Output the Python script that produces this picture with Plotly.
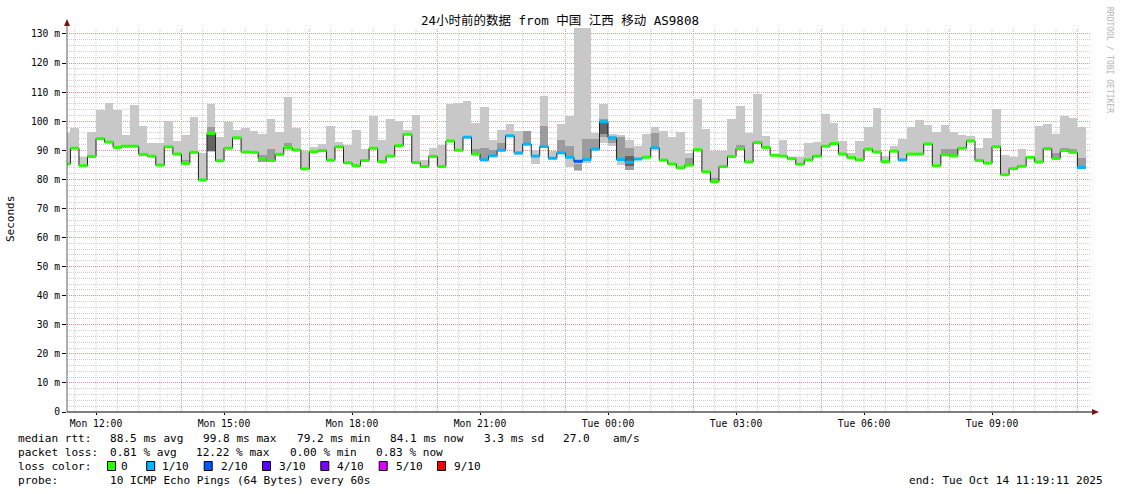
import plotly.graph_objects as go
import pandas as pd

# ---------------- data ----------------
bin_start = "2025-10-13 11:12:00"   # first 12-minute bin (partially visible)
bin_minutes = 12
range_start = "2025-10-13 11:19:11"
range_end = "2025-10-14 11:19:11"

median = [85.3, 90.7, 84.7, 87.9, 94.0, 92.8, 91.0, 91.4, 91.4, 88.6,
          88.0, 84.9, 91.2, 88.7, 85.5, 89.3, 79.8, 95.8, 86.4, 90.7,
          94.3, 89.4, 89.3, 87.1, 86.5, 88.6, 90.9, 90.1, 83.6, 89.5,
          89.9, 86.6, 91.2, 85.7, 84.7, 86.5, 90.7, 86.1, 88.0, 91.6,
          95.5, 85.8, 84.4, 87.9, 84.4, 93.2, 90.0, 94.5, 88.7, 86.7,
          88.1, 90.0, 95.0, 89.1, 92.1, 88.0, 91.3, 87.3, 89.1, 87.6,
          86.2, 86.8, 90.4, 99.8, 94.3, 86.8, 85.9, 87.0, 87.6, 90.8,
          86.6, 85.3, 84.0, 84.9, 90.2, 82.6, 79.2, 84.4, 87.9, 90.6,
          86.0, 92.7, 91.0, 88.3, 88.0, 87.1, 85.2, 86.7, 88.0, 91.4,
          92.3, 88.7, 87.5, 86.7, 90.4, 89.4, 86.1, 89.7, 86.7, 88.7,
          88.7, 92.2, 84.7, 88.5, 88.1, 90.7, 93.2, 86.5, 85.6, 91.2,
          81.6, 83.7, 84.5, 87.6, 86.0, 90.6, 87.2, 89.9, 89.3, 84.1]

smoke_hi = [95.8, 97.8, 87.8, 96.4, 103.7, 106.4, 104.0, 95.3, 105.7, 98.3,
            92.6, 92.6, 100.2, 93.2, 95.4, 101.6, 89.2, 105.9, 94.4, 99.8,
            97.0, 97.5, 96.6, 95.5, 100.6, 96.2, 108.4, 97.8, 89.9, 91.2,
            92.2, 98.3, 92.8, 91.8, 97.0, 90.3, 101.8, 93.5, 100.8, 100.1,
            97.0, 102.1, 86.7, 90.7, 91.8, 105.9, 106.2, 107.0, 99.4, 104.9,
            93.6, 97.1, 99.2, 96.7, 96.5, 90.2, 108.8, 89.9, 99.0, 101.7,
            132.0, 132.0, 95.9, 105.9, 95.7, 95.4, 93.6, 91.6, 95.7, 97.9,
            96.7, 94.4, 96.3, 89.2, 107.8, 97.3, 89.9, 89.9, 100.8, 105.3,
            96.1, 109.4, 94.9, 88.6, 93.5, 87.8, 87.6, 92.6, 93.0, 102.5,
            99.5, 93.2, 89.2, 93.2, 98.1, 104.4, 88.0, 91.5, 93.8, 98.1,
            100.4, 98.7, 96.4, 98.7, 96.2, 95.3, 94.9, 90.7, 94.1, 104.2,
            88.3, 87.7, 90.4, 87.9, 98.3, 99.0, 95.6, 101.8, 101.2, 98.0]

smoke_lo = [84.9, 90.3, 84.3, 87.5, 93.6, 92.4, 90.6, 91.0, 91.0, 88.2,
            87.6, 84.5, 90.8, 88.3, 85.1, 88.9, 79.4, 89.4, 86.0, 90.3,
            93.9, 89.0, 88.9, 86.0, 86.1, 88.2, 90.5, 89.7, 83.2, 89.1,
            89.5, 86.2, 90.8, 85.3, 84.3, 86.1, 90.3, 85.7, 87.6, 91.2,
            95.1, 85.4, 84.0, 87.5, 84.0, 92.8, 89.6, 94.1, 88.3, 86.3,
            87.7, 89.6, 94.6, 88.3, 91.7, 85.3, 90.9, 86.8, 88.7, 84.1,
            82.8, 85.5, 90.0, 92.6, 91.5, 84.8, 83.1, 86.6, 87.2, 90.4,
            86.2, 84.9, 83.6, 84.5, 89.8, 82.2, 78.8, 84.0, 87.5, 90.2,
            85.6, 92.3, 90.6, 87.9, 87.6, 86.7, 84.8, 86.3, 87.6, 91.0,
            91.9, 88.3, 87.1, 86.3, 90.0, 89.0, 85.7, 89.3, 86.3, 88.3,
            88.3, 91.8, 84.3, 88.1, 87.7, 90.3, 92.8, 86.1, 85.2, 90.8,
            81.2, 83.3, 84.1, 87.2, 85.6, 90.2, 86.8, 89.5, 88.9, 83.7]

# inner (darker) smoke bands
mid_bins = [14, 17, 23, 24, 26, 48, 49, 50, 51, 54, 56, 58, 59, 60, 61, 62, 63,
            64, 65, 66, 69, 73, 76, 79, 103, 104, 116, 117, 118, 119]
mid_lo = [85.5, 89.6, 86.0, 86.5, 90.9, 88.7, 86.7, 88.1, 90.0, 92.1, 91.3, 89.1,
          87.6, 83.1, 86.8, 90.4, 94.4, 92.5, 86.8, 83.3, 90.8, 84.9, 79.2, 90.6,
          88.5, 88.1, 87.2, 89.9, 89.3, 84.1]
mid_hi = [86.7, 98.1, 88.4, 90.4, 92.6, 90.4, 90.8, 90.1, 92.5, 96.5, 98.5, 93.5,
          91.6, 85.3, 93.8, 93.8, 100.6, 94.3, 94.7, 90.8, 95.8, 87.4, 80.4, 91.8,
          90.4, 90.6, 89.1, 90.7, 90.3, 87.2]
dark_bins = [17, 63, 66]
dark_lo = [89.8, 95.5, 84.5]
dark_hi = [95.5, 99.5, 88.0]

# packet loss per bin, in tenths (0 = 0/10, 1 = 1/10, 2 = 2/10)
loss = [0, 0, 0, 0, 0, 0, 0, 0, 0, 0,
        0, 0, 0, 0, 0, 0, 0, 0, 0, 0,
        0, 0, 0, 0, 0, 0, 0, 0, 0, 0,
        0, 0, 0, 0, 0, 0, 0, 0, 0, 0,
        0, 0, 0, 0, 0, 0, 0, 1, 0, 1,
        1, 1, 1, 1, 1, 1, 1, 1, 1, 1,
        2, 1, 1, 1, 1, 1, 1, 1, 0, 1,
        0, 0, 0, 0, 0, 0, 0, 0, 0, 0,
        0, 0, 0, 0, 0, 0, 0, 0, 0, 0,
        0, 0, 0, 0, 0, 0, 0, 0, 1, 0,
        0, 0, 0, 0, 0, 0, 0, 0, 0, 0,
        0, 0, 0, 0, 0, 0, 0, 0, 0, 1]

loss_levels = [0, 1, 2, 3, 4, 5, 9]
loss_labels = ["0", "1/10", "2/10", "3/10", "4/10", "5/10", "9/10"]
loss_colors = ["#26ff00", "#00b8ff", "#0059ff", "#5e00ff", "#7e00ff", "#dd00ff", "#ff0000"]

y_tick_vals = [0, 10, 20, 30, 40, 50, 60, 70, 80, 90, 100, 110, 120, 130]
y_tick_text = ["0", "10 m", "20 m", "30 m", "40 m", "50 m", "60 m", "70 m",
               "80 m", "90 m", "100 m", "110 m", "120 m", "130 m"]
x_label_start = "2025-10-13 12:00"
x_label_count = 8
x_label_hours = 3
minor_grid_start = "2025-10-13 11:30"
minor_grid_count = 48
major_grid_start = "2025-10-13 14:00"
major_grid_count = 8

title_text = "24小时前的数据 from 中国 江西 移动 AS9808"
stats_rtt = ["median rtt:", "88.5 ms avg", "99.8 ms max", "79.2 ms min",
             "84.1 ms now", "3.3 ms sd", "27.0", "am/s"]
stats_loss = ["packet loss:", "0.81 % avg", "12.22 % max", "0.00 % min", "0.83 % now"]
probe_text = "10 ICMP Echo Pings (64 Bytes) every 60s"
end_text = "end: Tue Oct 14 11:19:11 2025"

# ---------------- geometry ----------------
W, H = 1121, 494
PL, PR, PT, PB = 67, 1091, 28, 412   # plot area in pixels
YMAX = 132.05
GRID_MINOR = "#cfcfcf"
GRID_MAJOR = "#f09090"

def px(x):
    return (x - PL) / (PR - PL)

def py(y):
    return (PB - y) / (PB - PT)

step = pd.Timedelta(minutes=bin_minutes)
t0 = pd.Timestamp(bin_start)
n = len(median)
starts = [t0 + i * step for i in range(n)]
ends = [s + step for s in starts]
centers = [s + step / 2 for s in starts]
wms = bin_minutes * 60 * 1000

fig = go.Figure()

# smoke: outer light band
fig.add_trace(go.Bar(x=centers, base=smoke_lo,
                     y=[h - l for h, l in zip(smoke_hi, smoke_lo)],
                     width=[wms] * n, marker=dict(color="#c8c8c8", line=dict(width=0)),
                     hoverinfo="skip", showlegend=False))
fig.add_trace(go.Bar(x=[centers[i] for i in mid_bins], base=mid_lo,
                     y=[h - l for h, l in zip(mid_hi, mid_lo)],
                     width=[wms] * len(mid_bins), marker=dict(color="#9c9c9c", line=dict(width=0)),
                     hoverinfo="skip", showlegend=False))
fig.add_trace(go.Bar(x=[centers[i] for i in dark_bins], base=dark_lo,
                     y=[h - l for h, l in zip(dark_hi, dark_lo)],
                     width=[wms] * len(dark_bins), marker=dict(color="#646464", line=dict(width=0)),
                     hoverinfo="skip", showlegend=False))

# median step line
fig.add_trace(go.Scatter(x=starts + [ends[-1]], y=median + [median[-1]], mode="lines",
                         line=dict(color="#202020", width=1, shape="hv"),
                         hoverinfo="skip", showlegend=False))

# loss-coloured median segments
for lvl, col in zip(loss_levels, loss_colors):
    xs, ys = [], []
    for i in range(n):
        if loss[i] == lvl:
            xs += [starts[i], ends[i], None]
            ys += [median[i], median[i], None]
    if xs:
        fig.add_trace(go.Scatter(x=xs, y=ys, mode="lines",
                                 line=dict(color=col, width=3),
                                 hoverinfo="skip", showlegend=False))

shapes = []
# vertical grid: grey every 30 min, red every 3 h
major_times = set(pd.date_range(major_grid_start, periods=major_grid_count, freq="3h"))
for t in pd.date_range(minor_grid_start, periods=minor_grid_count, freq="30min"):
    col = GRID_MAJOR if t in major_times else GRID_MINOR
    shapes.append(dict(type="line", xref="x", yref="paper", x0=t, x1=t, y0=0, y1=1,
                       line=dict(color=col, width=1, dash="1px,1px"),
                       layer="between"))
# axis lines with arrows
shapes.append(dict(type="line", xref="paper", yref="paper", x0=0, x1=0, y0=0, y1=py(22),
                   line=dict(color="#606060", width=1)))
shapes.append(dict(type="line", xref="paper", yref="paper", x0=0, x1=px(1095), y0=0, y1=0,
                   line=dict(color="#000000", width=1)))
shapes.append(dict(type="path", xref="paper", yref="paper",
                   path=f"M {px(64)} {py(26)} L {px(70)} {py(26)} L {px(67)} {py(19)} Z",
                   fillcolor="#801010", line=dict(width=0)))
shapes.append(dict(type="path", xref="paper", yref="paper",
                   path=f"M {px(1092)} {py(409)} L {px(1092)} {py(415)} L {px(1099)} {py(412)} Z",
                   fillcolor="#801010", line=dict(width=0)))

annotations = []
mono = "DejaVu Sans Mono, Noto Sans CJK SC, monospace"
annotations.append(dict(text=title_text, xref="paper", yref="paper", x=px(560), y=py(21),
                        showarrow=False, xanchor="center", yanchor="middle",
                        font=dict(family=mono, size=12.5, color="#000")))
annotations.append(dict(text="Seconds", xref="paper", yref="paper", x=px(10), y=py(219),
                        showarrow=False, textangle=-90, xanchor="center", yanchor="middle",
                        font=dict(family=mono, size=11, color="#000")))
annotations.append(dict(text="RRDTOOL / TOBI OETIKER", xref="paper", yref="paper",
                        x=px(1110), y=py(60), showarrow=False, textangle=90,
                        xanchor="center", yanchor="middle",
                        font=dict(family=mono, size=8, color="#b4b4b4")))

def legend_text(t, x, y):
    annotations.append(dict(text=t, xref="paper", yref="paper", x=px(x), y=py(y),
                            showarrow=False, xanchor="left", yanchor="middle",
                            font=dict(family=mono, size=11.1, color="#000")))

for t, x in zip(stats_rtt, [16, 107.5, 200.8, 294.6, 388.3, 481.7, 561, 610.8]):
    legend_text(t, x, 438)
for t, x in zip(stats_loss, [16, 107.5, 193.8, 287.5, 374.2]):
    legend_text(t, x, 452)
legend_text("loss color:", 16, 466)
box_x = [107.5, 146.7, 204.2, 262.5, 320.8, 379.2, 437.5]
lab_x = [118.8, 160.4, 218.8, 277.0, 335.4, 393.8, 452.0]
for col, lab, bx, lx in zip(loss_colors, loss_labels, box_x, lab_x):
    shapes.append(dict(type="rect", xref="paper", yref="paper",
                       x0=px(bx), x1=px(bx + 8), y0=py(470.5), y1=py(461.5),
                       fillcolor=col, line=dict(color="#000", width=1)))
    legend_text(lab, lx, 466)
legend_text("probe:", 16, 480)
legend_text(probe_text, 107.5, 480)
annotations.append(dict(text=end_text, xref="paper", yref="paper", x=px(1105), y=py(480),
                        showarrow=False, xanchor="right", yanchor="middle",
                        font=dict(family=mono, size=11.1, color="#000")))

tickvals = list(pd.date_range(x_label_start, periods=x_label_count, freq=f"{x_label_hours}h"))
ticktext = [t.strftime("%a %H:%M") for t in tickvals]

fig.update_layout(
    width=W, height=H,
    margin=dict(l=PL, r=W - PR, t=PT, b=H - PB, pad=0),
    paper_bgcolor="#ffffff", plot_bgcolor="#ffffff",
    barmode="overlay", bargap=0, showlegend=False,
    shapes=shapes, annotations=annotations,
    xaxis=dict(type="date", range=[range_start, range_end],
               tickvals=tickvals, ticktext=ticktext, showgrid=False, zeroline=False,
               showline=False, ticks="outside", ticklen=2, tickcolor="#000",
               tickfont=dict(family=mono, size=9.7, color="#000")),
    yaxis=dict(range=[0, YMAX], tickvals=y_tick_vals, ticktext=y_tick_text,
               showgrid=True, gridcolor=GRID_MAJOR, griddash="1px,1px", gridwidth=1,
               zeroline=False, showline=False, ticks="outside", ticklen=4, tickcolor="#000",
               tickfont=dict(family=mono, size=9.7, color="#000"),
               minor=dict(dtick=2, tick0=0, showgrid=True, gridcolor=GRID_MINOR,
                          griddash="1px,1px", gridwidth=1)),
)

fig.write_html("out.html", config={"displayModeBar": False},
               post_script="document.body.style.margin='0px';document.body.style.overflow='hidden';")
